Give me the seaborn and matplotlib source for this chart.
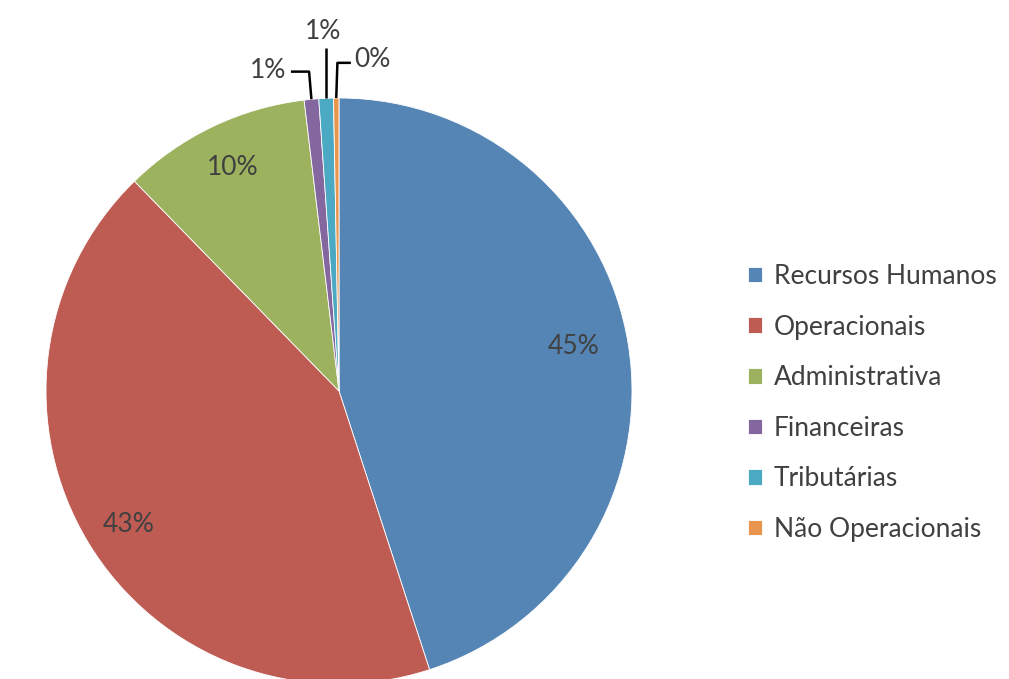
import numpy as np
import matplotlib.pyplot as plt
import seaborn as sns

sns.set_theme(style="white")
plt.rcParams['font.family'] = ['Lato', 'DejaVu Sans']

# Share of expenses by category (percent)
categories = ['Recursos Humanos', 'Operacionais', 'Administrativa',
              'Financeiras', 'Tributárias', 'Não Operacionais']
shares = [45.0, 42.7, 10.4, 0.8, 0.8, 0.3]
colors = ['#5585B5', '#BE5B52', '#9CB25E', '#8567A0', '#4BA9C3', '#E8964E']
text_color = '#404040'

fig = plt.figure(figsize=(10.09, 6.79), dpi=100)
ax = fig.add_axes([46 / 1009, -5 / 679, 586 / 1009, 586 / 679])

wedges, _ = ax.pie(shares, colors=colors, startangle=90, counterclock=False,
                   wedgeprops=dict(edgecolor='white', linewidth=0.6))
ax.set_xlim(-1, 1)
ax.set_ylim(-1, 1)
ax.set_aspect('equal')
ax.axis('off')

labels = [f"{round(v):.0f}%" for v in shares]
fs = 19

# big slices: labels inside
for w, lab, r, dy in zip(wedges[:3], labels[:3], [0.81, 0.84, 0.84],
                         [0.025, -0.02, 0.005]):
    mid = np.deg2rad((w.theta1 + w.theta2) / 2)
    ax.text(r * np.cos(mid), r * np.sin(mid) + dy, lab, ha='center', va='center',
            fontsize=fs, color=text_color)

# small slices: labels outside with leader lines
def edge(w):
    mid = np.deg2rad((w.theta1 + w.theta2) / 2)
    return np.cos(mid), np.sin(mid)

lk = dict(color='black', lw=1.8, clip_on=False, solid_capstyle='butt')

# Financeiras
x0, y0 = edge(wedges[3])
ax.plot([x0, x0 - 0.008, x0 - 0.07], [y0, 1.09, 1.09], **lk)
ax.text(x0 - 0.085, 1.095, labels[3], ha='right', va='center',
        fontsize=fs, color=text_color)

# Tributárias
x0, y0 = edge(wedges[4])
ax.plot([x0, x0], [y0, 1.17], **lk)
ax.text(x0 - 0.01, 1.185, labels[4], ha='center', va='bottom',
        fontsize=fs, color=text_color)

# Não Operacionais
x0, y0 = edge(wedges[5])
ax.plot([x0, x0 + 0.004, x0 + 0.05], [y0, 1.12, 1.12], **lk)
ax.text(x0 + 0.06, 1.13, labels[5], ha='left', va='center',
        fontsize=fs, color=text_color)

leg = fig.legend(wedges, categories, loc='center left',
                 bbox_to_anchor=(724 / 1009, 1 - 403 / 679), frameon=False,
                 fontsize=fs, handlelength=0.53, handleheight=0.53,
                 handletextpad=0.45, labelspacing=0.97)
for t in leg.get_texts():
    t.set_color(text_color)

fig.savefig('out.png', dpi=100)
